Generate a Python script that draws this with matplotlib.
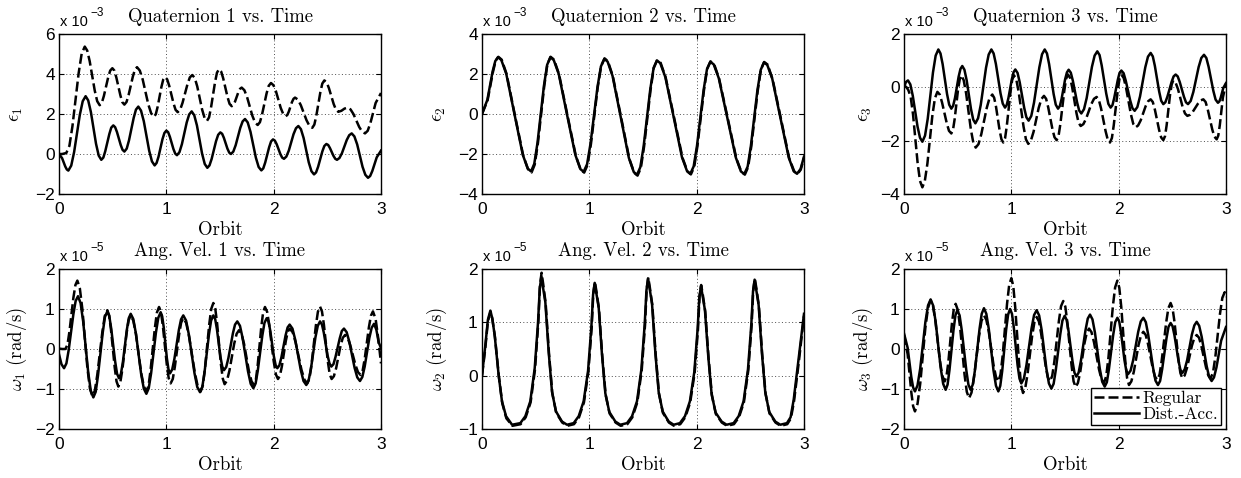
import matplotlib
matplotlib.use("Agg")
import matplotlib.pyplot as plt

plt.rcParams['mathtext.fontset'] = 'cm'
plt.rcParams['font.family'] = 'Liberation Sans'

# (orbit, value) pairs; quaternions in 1e-3, rates in 1e-5 rad/s
eps1_reg = [(0, 0), (.03, 0), (.068, .05), (.097, .41), (.125, 1.38), (.183, 4.04), (.211, 5.01), (.24, 5.37),
            (.263, 5.17), (.286, 4.64), (.333, 3.17), (.356, 2.64), (.379, 2.44),
            (.399, 2.56), (.418, 2.90), (.458, 3.83), (.477, 4.17), (.497, 4.29),
            (.516, 4.17), (.534, 3.83), (.572, 2.93), (.590, 2.59), (.609, 2.47),
            (.629, 2.60), (.648, 2.94), (.688, 3.87), (.707, 4.22), (.727, 4.34),
            (.753, 4.17), (.780, 3.72), (.832, 2.48), (.859, 2.03), (.885, 1.86),
            (.902, 1.99), (.919, 2.36), (.954, 3.35), (.971, 3.72), (.988, 3.85),
            (1.008, 3.73), (1.027, 3.41), (1.067, 2.53), (1.086, 2.21), (1.106, 2.09),
            (1.129, 2.22), (1.151, 2.56), (1.197, 3.49), (1.219, 3.83), (1.242, 3.95),
            (1.265, 3.80), (1.288, 3.38), (1.333, 2.23), (1.356, 1.81), (1.379, 1.66),
            (1.398, 1.83), (1.416, 2.31), (1.454, 3.60), (1.472, 4.07), (1.491, 4.24),
            (1.511, 4.12), (1.530, 3.78), (1.570, 2.85), (1.589, 2.51), (1.609, 2.39),
            (1.625, 2.45), (1.640, 2.62), (1.671, 3.09), (1.687, 3.26), (1.702, 3.32),
            (1.727, 3.19), (1.752, 2.85), (1.801, 1.92), (1.826, 1.58), (1.851, 1.45),
            (1.872, 1.59), (1.892, 1.98), (1.934, 3.03), (1.954, 3.41), (1.975, 3.55),
            (1.998, 3.44), (2.021, 3.14), (2.066, 2.30), (2.089, 2.00), (2.112, 1.89),
            (2.127, 1.95), (2.141, 2.12), (2.170, 2.59), (2.185, 2.76), (2.199, 2.82),
            (2.226, 2.72), (2.253, 2.44), (2.306, 1.69), (2.333, 1.41), (2.36, 1.31),
            (2.379, 1.47), (2.397, 1.90), (2.435, 3.09), (2.453, 3.52), (2.472, 3.68),
            (2.494, 3.58), (2.515, 3.29), (2.559, 2.50), (2.580, 2.22), (2.602, 2.11),
            (2.631, 2.16), (2.660, 2.27), (2.689, 2.32),
            (2.716, 2.23), (2.743, 2.00), (2.797, 1.35), (2.824, 1.12), (2.851, 1.03),
            (2.876, 1.16), (2.901, 1.54), (2.950, 2.55), (3.0, 3.05)]
eps1_dist = [(0, 0), (.029, -.21), (.058, -.62), (.0725, -.77), (.087, -.83),
             (.114, -.58), (.141, .10), (.194, 1.96), (.221, 2.64), (.248, 2.89),
             (.272, 2.68), (.297, 2.10), (.345, .51), (.370, -.08), (.394, -.29),
             (.413, -.18), (.431, .14), (.469, 1.00), (.487, 1.32), (.506, 1.43),
             (.523, 1.34), (.540, 1.10), (.575, .45), (.592, .21), (.609, .12),
             (.631, .27), (.652, .68), (.696, 1.81), (.717, 2.22), (.739, 2.37),
             (.764, 2.17), (.790, 1.64), (.840, .17), (.866, -.37), (.891, -.57),
             (.909, -.45), (.927, -.14), (.964, .74), (.982, 1.05), (1.0, 1.17),
             (1.017, 1.09), (1.033, .86), (1.066, .25), (1.083, .02), (1.099, -.06),
             (1.122, .09), (1.145, .49), (1.190, 1.58), (1.213, 1.98), (1.236, 2.13),
             (1.260, 1.94), (1.285, 1.43), (1.333, .02), (1.358, -.50), (1.382, -.69),
             (1.402, -.57), (1.422, -.25), (1.463, .64), (1.483, .96), (1.503, 1.08),
             (1.520, 1.01), (1.536, .81), (1.569, .27), (1.586, .07), (1.602, 0),
             (1.624, .12), (1.646, .44), (1.689, 1.31), (1.711, 1.63), (1.733, 1.75),
             (1.758, 1.58), (1.784, 1.11), (1.834, -.18), (1.860, -.65), (1.885, -.82),
             (1.903, -.72), (1.921, -.43), (1.958, .34), (1.976, .63), (1.994, .73),
             (2.011, .67), (2.028, .49), (2.062, 0), (2.079, -.18), (2.096, -.24),
             (2.118, -.13), (2.141, .17), (2.185, .99), (2.208, 1.29), (2.23, 1.40),
             (2.254, 1.24), (2.279, .80), (2.327, -.42), (2.352, -.86), (2.376, -1.02),
             (2.395, -.92), (2.414, -.64), (2.453, .12), (2.472, .40), (2.491, .50),
             (2.508, .45), (2.524, .30), (2.557, -.09), (2.574, -.24), (2.59, -.29),
             (2.613, -.20), (2.636, .04), (2.681, .70), (2.704, .94), (2.727, 1.03),
             (2.752, .88), (2.778, .48), (2.828, -.64), (2.854, -1.04), (2.879, -1.19),
             (2.899, -1.10), (2.919, -.85), (2.960, -.17), (3.0, .17)]

eps2_reg = [(0, 0), (.052, .68), (.102, 2.10), (.127, 2.66), (.152, 2.86),
            (.183, 2.72), (.229, 2.00), (.306, -.05), (.384, -2.08), (.430, -2.77), (.462, -2.92),
            (.491, -2.53), (.521, -1.46), (.580, 1.40), (.609, 2.48), (.639, 2.86),
            (.671, 2.72), (.718, 1.98), (.796, -.06), (.874, -2.09), (.920, -2.79), (.952, -2.93),
            (.983, -2.55), (1.015, -1.50), (1.078, 1.33), (1.110, 2.40), (1.142, 2.78),
            (1.173, 2.64), (1.219, 1.89), (1.296, -.17), (1.372, -2.23), (1.418, -2.94), (1.449, -3.08),
            (1.480, -2.70), (1.510, -1.63), (1.571, 1.23), (1.601, 2.32), (1.632, 2.70),
            (1.664, 2.56), (1.711, 1.83), (1.790, -.19), (1.868, -2.19), (1.915, -2.88), (1.946, -3.02),
            (1.977, -2.65), (2.007, -1.61), (2.068, 1.19), (2.098, 2.26), (2.129, 2.63),
            (2.162, 2.50), (2.209, 1.77), (2.290, -.23), (2.369, -2.21), (2.417, -2.90), (2.449, -3.03),
            (2.479, -2.66), (2.509, -1.62), (2.569, 1.17), (2.599, 2.23), (2.629, 2.60),
            (2.661, 2.47), (2.707, 1.75), (2.785, -.24), (2.862, -2.21), (2.909, -2.87), (2.940, -3.0),
            (2.970, -2.78), (3.0, -2.18)]
eps2_dist = [(0, 0), (.05, .71), (.099, 2.13), (.124, 2.65), (.149, 2.84),
             (.180, 2.70), (.226, 2.01), (.303, -.02), (.380, -2.04), (.426, -2.73), (.457, -2.87),
             (.487, -2.49), (.517, -1.44), (.577, 1.41), (.607, 2.46), (.637, 2.84),
             (.668, 2.70), (.715, 2.00), (.792, -.03), (.870, -2.05), (.916, -2.75), (.947, -2.89),
             (.979, -2.51), (1.011, -1.48), (1.076, 1.35), (1.108, 2.38), (1.14, 2.76),
             (1.170, 2.62), (1.216, 1.91), (1.292, -.14), (1.368, -2.19), (1.414, -2.90), (1.444, -3.04),
             (1.475, -2.66), (1.506, -1.61), (1.568, 1.25), (1.599, 2.30), (1.63, 2.68),
             (1.661, 2.54), (1.708, 1.85), (1.786, -.16), (1.863, -2.16), (1.910, -2.85), (1.941, -2.99),
             (1.972, -2.62), (2.003, -1.59), (2.065, 1.21), (2.096, 2.24), (2.127, 2.61),
             (2.159, 2.48), (2.206, 1.79), (2.286, -.20), (2.365, -2.18), (2.412, -2.87), (2.444, -3.0),
             (2.475, -2.63), (2.505, -1.60), (2.566, 1.19), (2.597, 2.21), (2.627, 2.58),
             (2.658, 2.45), (2.704, 1.77), (2.781, -.21), (2.858, -2.18), (2.904, -2.86), (2.935, -2.99),
             (2.968, -2.75), (3.0, -2.13)]

eps3_reg = [(0, .04), (.02, .02), (.04, -.1),
            (.062, -.35), (.084, -1.01), (.127, -2.84), (.149, -3.51), (.171, -3.75),
            (.194, -3.51), (.218, -2.86), (.264, -1.07), (.288, -.41), (.311, -.17),
            (.333, -.27), (.354, -.56), (.398, -1.34), (.419, -1.63), (.441, -1.73),
            (.457, -1.58), (.472, -1.19), (.503, -.10), (.519, .30), (.534, .45),
            (.556, .27), (.579, -.23), (.623, -1.58), (.646, -2.08), (.668, -2.26),
            (.694, -2.13), (.720, -1.76), (.771, -.77), (.797, -.40), (.823, -.27),
            (.840, -.39), (.857, -.72), (.891, -1.62), (.908, -1.95), (.925, -2.07),
            (.942, -1.90), (.958, -1.44), (.992, -.18), (1.008, .28), (1.025, .45),
            (1.047, .28), (1.069, -.19), (1.114, -1.48), (1.136, -1.95), (1.158, -2.12),
            (1.182, -2.00), (1.207, -1.67), (1.255, -.77), (1.280, -.44), (1.304, -.32),
            (1.324, -.43), (1.343, -.74), (1.383, -1.57), (1.402, -1.87), (1.422, -1.98),
            (1.440, -1.82), (1.457, -1.37), (1.493, -.14), (1.510, .32), (1.528, .48),
            (1.548, .35), (1.567, 0.0), (1.607, -.97), (1.626, -1.32), (1.646, -1.45),
            (1.671, -1.38), (1.696, -1.18), (1.745, -.63), (1.770, -.43), (1.795, -.36),
            (1.816, -.48), (1.836, -.79), (1.878, -1.64), (1.898, -1.96), (1.919, -2.07),
            (1.937, -1.90), (1.954, -1.43), (1.990, -.16), (2.007, .31), (2.025, .48),
            (2.047, .35), (2.069, -.02), (2.114, -1.01), (2.136, -1.37), (2.158, -1.50),
            (2.181, -1.43), (2.205, -1.24), (2.251, -.71), (2.275, -.52), (2.298, -.45),
            (2.318, -.55), (2.337, -.83), (2.377, -1.60), (2.396, -1.88), (2.416, -1.98),
            (2.432, -1.83), (2.447, -1.42), (2.478, -.30), (2.494, .11), (2.509, .26),
            (2.531, .17), (2.553, -.07), (2.596, -.74), (2.618, -.98), (2.64, -1.07),
            (2.665, -1.03), (2.690, -.92), (2.739, -.61), (2.764, -.49), (2.789, -.45),
            (2.810, -.55), (2.830, -.83), (2.872, -1.58), (2.892, -1.85), (2.913, -1.95),
            (2.928, -1.81), (2.942, -1.43), (2.971, -.38), (3.0, .14)]
eps3_dist = [(0, 0), (.018, .2), (.037, .26),
             (.059, .11), (.082, -.32), (.126, -1.47), (.149, -1.89), (.171, -2.04),
             (.196, -1.81), (.221, -1.18), (.270, .56), (.295, 1.19), (.32, 1.42),
             (.340, 1.27), (.360, .87), (.401, -.25), (.421, -.65), (.441, -.80),
             (.458, -.69), (.475, -.40), (.509, .40), (.526, .69), (.543, .80),
             (.563, .66), (.584, .26), (.624, -.81), (.645, -1.21), (.665, -1.35),
             (.690, -1.16), (.715, -.66), (.764, .73), (.789, 1.23), (.814, 1.42),
             (.835, 1.27), (.856, .88), (.899, -.22), (.920, -.61), (.941, -.76),
             (.957, -.66), (.973, -.40), (1.005, .31), (1.021, .57), (1.037, .67),
             (1.058, .54), (1.078, .19), (1.120, -.77), (1.140, -1.12), (1.161, -1.25),
             (1.186, -1.07), (1.211, -.58), (1.261, .75), (1.286, 1.24), (1.311, 1.42),
             (1.332, 1.27), (1.352, .87), (1.394, -.25), (1.414, -.65), (1.435, -.80),
             (1.452, -.70), (1.468, -.44), (1.501, .30), (1.518, .56), (1.534, .66),
             (1.554, .55), (1.573, .25), (1.613, -.57), (1.632, -.87), (1.652, -.98),
             (1.677, -.82), (1.702, -.40), (1.751, .77), (1.776, 1.19), (1.801, 1.35),
             (1.822, 1.21), (1.842, .82), (1.884, -.23), (1.904, -.62), (1.925, -.76),
             (1.942, -.67), (1.958, -.41), (1.992, .28), (2.008, .54), (2.025, .63),
             (2.046, .53), (2.066, .25), (2.108, -.50), (2.128, -.78), (2.149, -.88),
             (2.174, -.74), (2.199, -.34), (2.248, .75), (2.273, 1.15), (2.298, 1.29),
             (2.318, 1.16), (2.337, .81), (2.377, -.15), (2.396, -.50), (2.416, -.63),
             (2.435, -.56), (2.454, -.35), (2.493, .20), (2.512, .41), (2.531, .48),
             (2.550, .41), (2.569, .20), (2.608, -.35), (2.627, -.56), (2.646, -.63),
             (2.671, -.51), (2.696, -.17), (2.745, .76), (2.770, 1.10), (2.795, 1.22),
             (2.817, 1.10), (2.838, .77), (2.882, -.13), (2.903, -.46), (2.925, -.58),
             (2.938, -.53), (2.950, -.40), (2.975, -.02), (3.0, .16)]

w1_reg = [(0, .01), (.03, .0), (.06, .0),
          (.079, .11), (.097, .43), (.134, 1.28), (.153, 1.60), (.171, 1.71),
          (.194, 1.52), (.218, .99), (.264, -.46), (.288, -.99), (.311, -1.18),
          (.334, -1.04), (.357, -.64), (.404, .43), (.427, .83), (.45, .97),
          (.467, .84), (.484, .49), (.519, -.46), (.536, -.81), (.553, -.94),
          (.572, -.82), (.591, -.50), (.630, .40), (.649, .72), (.668, .84),
          (.692, .71), (.717, .37), (.765, -.59), (.790, -.93), (.814, -1.06),
          (.834, -.92), (.853, -.53), (.893, .52), (.912, .91), (.932, 1.05),
          (.950, .92), (.968, .57), (1.004, -.38), (1.022, -.73), (1.04, -.86),
          (1.060, -.75), (1.079, -.45), (1.119, .36), (1.138, .66), (1.158, .77),
          (1.185, .65), (1.212, .31), (1.266, -.60), (1.293, -.94), (1.32, -1.06),
          (1.340, -.91), (1.359, -.51), (1.399, .60), (1.418, 1.0), (1.438, 1.15),
          (1.456, 1.01), (1.473, .64), (1.508, -.37), (1.526, -.74), (1.543, -.88),
          (1.565, -.79), (1.588, -.54), (1.632, .13), (1.655, .38), (1.677, .47),
          (1.700, .38), (1.724, .13), (1.770, -.56), (1.794, -.81), (1.817, -.90),
          (1.834, -.77), (1.851, -.41), (1.885, .56), (1.902, .92), (1.919, 1.05),
          (1.939, .93), (1.959, .60), (2.0, -.30), (2.020, -.63), (2.04, -.75),
          (2.058, -.67), (2.076, -.44), (2.113, .20), (2.131, .43), (2.149, .51),
          (2.177, .42), (2.204, .17), (2.259, -.52), (2.287, -.77), (2.314, -.86),
          (2.334, -.73), (2.353, -.38), (2.393, .58), (2.412, .93), (2.432, 1.06),
          (2.450, .94), (2.468, .61), (2.504, -.30), (2.522, -.63), (2.54, -.75),
          (2.561, -.68), (2.582, -.48), (2.623, .08), (2.644, .28), (2.665, .35),
          (2.689, .28), (2.713, .10), (2.762, -.40), (2.786, -.58), (2.81, -.65),
          (2.829, -.54), (2.848, -.25), (2.887, .54), (2.906, .83), (2.925, .94),
          (2.950, .75), (2.975, .25), (3.0, -.36)]
w1_dist = [(0, -.13), (.023, -.38), (.047, -.48),
           (.069, -.36), (.090, -.03), (.134, .87), (.155, 1.20), (.177, 1.32),
           (.201, 1.15), (.225, .69), (.272, -.58), (.296, -1.04), (.32, -1.21),
           (.342, -1.07), (.363, -.67), (.407, .40), (.428, .80), (.45, .94),
           (.468, .83), (.486, .52), (.523, -.31), (.541, -.62), (.559, -.73),
           (.577, -.62), (.595, -.33), (.632, .48), (.650, .77), (.668, .88),
           (.692, .75), (.717, .38), (.765, -.62), (.790, -.99), (.814, -1.12),
           (.836, -.98), (.858, -.61), (.903, .41), (.925, .78), (.947, .92),
           (.961, .82), (.976, .54), (1.005, -.23), (1.020, -.51), (1.034, -.61),
           (1.055, -.51), (1.075, -.25), (1.117, .48), (1.137, .74), (1.158, .84),
           (1.184, .71), (1.210, .36), (1.262, -.60), (1.288, -.95), (1.314, -1.08),
           (1.335, -.95), (1.355, -.60), (1.397, .36), (1.417, .71), (1.438, .84),
           (1.455, .75), (1.471, .50), (1.504, -.19), (1.521, -.44), (1.537, -.53),
           (1.558, -.45), (1.578, -.23), (1.620, .39), (1.640, .61), (1.661, .69),
           (1.686, .58), (1.711, .27), (1.761, -.56), (1.786, -.87), (1.811, -.98),
           (1.832, -.86), (1.852, -.54), (1.894, .33), (1.914, .65), (1.935, .77),
           (1.952, .69), (1.968, .46), (2.001, -.17), (2.018, -.40), (2.034, -.48),
           (2.053, -.41), (2.072, -.21), (2.111, .34), (2.130, .54), (2.149, .61),
           (2.175, .51), (2.201, .23), (2.252, -.52), (2.278, -.80), (2.304, -.90),
           (2.325, -.79), (2.347, -.50), (2.389, .29), (2.411, .58), (2.432, .69),
           (2.450, .61), (2.467, .41), (2.502, -.16), (2.520, -.36), (2.537, -.44),
           (2.557, -.38), (2.576, -.20), (2.616, .27), (2.635, .45), (2.655, .51),
           (2.680, .42), (2.705, .18), (2.754, -.47), (2.779, -.71), (2.804, -.80),
           (2.826, -.70), (2.848, -.44), (2.891, .27), (2.913, .53), (2.935, .63),
           (2.957, .48), (2.978, .17), (3.0, .02)]

w2_reg = [(0, 0), (.03, .5), (.055, 1.02), (.08, 1.20), (.097, 1.06), (.121, .72), (.158, -.03), (.189, -.52),
          (.227, -.80), (.283, -.94), (.360, -.91), (.407, -.78), (.453, -.50), (.494, .12), (.525, 1.0),
          (.540, 1.69), (.555, 1.93), (.570, 1.72), (.593, 1.36), (.624, .42), (.655, -.33), (.692, -.70),
          (.748, -.88), (.795, -.94), (.857, -.91), (.904, -.78), (.950, -.50), (.991, .07), (1.022, .90),
          (1.037, 1.54), (1.052, 1.76), (1.067, 1.57), (1.090, 1.25), (1.121, .36), (1.152, -.36), (1.189, -.71),
          (1.245, -.88), (1.292, -.94), (1.354, -.91), (1.401, -.78), (1.447, -.50), (1.488, .10), (1.519, .95),
          (1.534, 1.62), (1.549, 1.84), (1.564, 1.65), (1.587, 1.32), (1.618, .40), (1.649, -.34), (1.686, -.70),
          (1.742, -.88), (1.789, -.94), (1.847, -.91), (1.894, -.78), (1.940, -.50), (1.981, .05), (2.012, .86),
          (2.027, 1.49), (2.042, 1.70), (2.057, 1.52), (2.080, 1.20), (2.111, .33), (2.142, -.37), (2.179, -.72),
          (2.235, -.88), (2.282, -.94), (2.347, -.91), (2.394, -.78), (2.440, -.50), (2.481, .10), (2.512, .94),
          (2.527, 1.60), (2.542, 1.82), (2.557, 1.63), (2.580, 1.30), (2.611, .39), (2.642, -.34), (2.679, -.71),
          (2.735, -.88), (2.782, -.94), (2.844, -.91), (2.878, -.80), (2.907, -.48), (2.953, .28), (3.0, 1.12)]
w2_dist = [(0, 0), (.03, .55), (.055, 1.05), (.078, 1.22), (.095, 1.08), (.118, .76), (.155, .01), (.186, -.48),
           (.224, -.76), (.28, -.92), (.357, -.89), (.404, -.76), (.45, -.48), (.491, .14), (.522, 1.0),
           (.538, 1.63), (.553, 1.86), (.568, 1.66), (.590, 1.38), (.621, .45), (.652, -.30), (.689, -.67),
           (.745, -.86), (.792, -.92), (.854, -.89), (.901, -.76), (.947, -.48), (.988, .09), (1.019, .92),
           (1.035, 1.52), (1.05, 1.74), (1.065, 1.55), (1.087, 1.28), (1.118, .39), (1.149, -.33), (1.186, -.68),
           (1.242, -.86), (1.289, -.92), (1.351, -.89), (1.398, -.76), (1.444, -.48), (1.485, .12), (1.516, .97),
           (1.532, 1.60), (1.547, 1.82), (1.562, 1.63), (1.584, 1.35), (1.615, .43), (1.646, -.31), (1.683, -.67),
           (1.739, -.86), (1.786, -.92), (1.844, -.89), (1.891, -.76), (1.937, -.48), (1.978, .07), (2.009, .88),
           (2.025, 1.47), (2.04, 1.68), (2.055, 1.50), (2.077, 1.23), (2.108, .36), (2.139, -.34), (2.176, -.69),
           (2.232, -.86), (2.279, -.92), (2.344, -.89), (2.391, -.76), (2.437, -.48), (2.478, .12), (2.509, .96),
           (2.525, 1.58), (2.54, 1.80), (2.555, 1.61), (2.577, 1.33), (2.608, .42), (2.639, -.31), (2.676, -.68),
           (2.732, -.86), (2.779, -.92), (2.841, -.89), (2.875, -.78), (2.904, -.45), (2.95, .32), (3.0, 1.16)]

w3_reg = [(0, .35), (.034, -.13), (.068, -1.08), (.085, -1.43), (.102, -1.56),
          (.126, -1.37), (.151, -.87), (.199, .53), (.224, 1.03), (.248, 1.22),
          (.270, 1.08), (.292, .71), (.335, -.30), (.357, -.67), (.379, -.81),
          (.396, -.68), (.413, -.33), (.447, .65), (.464, 1.0), (.481, 1.13),
          (.502, .97), (.523, .54), (.564, -.64), (.585, -1.07), (.606, -1.23),
          (.629, -1.09), (.652, -.71), (.699, .32), (.722, .70), (.745, .84),
          (.767, .73), (.790, .43), (.834, -.40), (.857, -.70), (.879, -.81),
          (.899, -.64), (.919, -.17), (.960, 1.13), (.980, 1.60), (1.0, 1.77),
          (1.018, 1.58), (1.036, 1.05), (1.073, -.38), (1.091, -.91), (1.109, -1.1),
          (1.130, -.97), (1.151, -.63), (1.194, .33), (1.215, .67), (1.236, .8),
          (1.257, .69), (1.277, .40), (1.319, -.41), (1.339, -.70), (1.36, -.81),
          (1.381, -.67), (1.401, -.31), (1.443, .70), (1.463, 1.07), (1.484, 1.2),
          (1.503, 1.06), (1.522, .66), (1.561, -.41), (1.580, -.81), (1.599, -.95),
          (1.620, -.85), (1.641, -.59), (1.682, .15), (1.703, .41), (1.724, .51),
          (1.747, .42), (1.770, .17), (1.817, -.51), (1.840, -.76), (1.863, -.85),
          (1.884, -.68), (1.905, -.21), (1.946, 1.07), (1.967, 1.54), (1.988, 1.71),
          (2.006, 1.53), (2.024, 1.06), (2.060, -.25), (2.078, -.72), (2.096, -.9),
          (2.118, -.81), (2.141, -.57), (2.185, .10), (2.208, .34), (2.23, .43),
          (2.252, .35), (2.273, .13), (2.317, -.47), (2.338, -.69), (2.36, -.77),
          (2.381, -.64), (2.401, -.29), (2.443, .67), (2.463, 1.02), (2.484, 1.15),
          (2.502, 1.02), (2.520, .68), (2.557, -.26), (2.575, -.60), (2.593, -.73),
          (2.615, -.66), (2.638, -.46), (2.682, .08), (2.705, .28), (2.727, .35),
          (2.749, .28), (2.770, .08), (2.814, -.46), (2.835, -.66), (2.857, -.73),
          (2.879, -.59), (2.901, -.19), (2.944, .88), (2.966, 1.28), (2.988, 1.42),
          (3.0, 1.3)]
w3_dist = [(0, .39), (.034, .03), (.068, -.70), (.085, -.96), (.102, -1.06),
           (.126, -.91), (.151, -.49), (.199, .67), (.224, 1.09), (.248, 1.24),
           (.271, 1.09), (.295, .68), (.341, -.46), (.365, -.87), (.388, -1.02),
           (.406, -.89), (.424, -.52), (.461, .47), (.479, .84), (.497, .97),
           (.518, .84), (.538, .47), (.580, -.52), (.600, -.89), (.621, -1.02),
           (.642, -.88), (.662, -.51), (.704, .51), (.724, .88), (.745, 1.02),
           (.767, .88), (.790, .50), (.834, -.54), (.857, -.92), (.879, -1.06),
           (.897, -.92), (.915, -.55), (.952, .49), (.970, .86), (.988, 1.0),
           (1.006, .88), (1.023, .54), (1.058, -.40), (1.076, -.74), (1.093, -.86),
           (1.117, -.74), (1.141, -.40), (1.188, .51), (1.212, .85), (1.236, .97),
           (1.259, .84), (1.282, .48), (1.327, -.50), (1.350, -.86), (1.373, -.99),
           (1.394, -.87), (1.414, -.53), (1.456, .37), (1.476, .71), (1.497, .83),
           (1.515, .73), (1.533, .45), (1.570, -.31), (1.588, -.59), (1.606, -.69),
           (1.627, -.59), (1.648, -.30), (1.691, .47), (1.712, .76), (1.733, .86),
           (1.756, .74), (1.779, .41), (1.824, -.49), (1.847, -.82), (1.87, -.94),
           (1.890, -.83), (1.909, -.51), (1.949, .35), (1.968, .67), (1.988, .78),
           (2.005, .69), (2.021, .43), (2.054, -.28), (2.071, -.54), (2.087, -.63),
           (2.111, -.54), (2.135, -.28), (2.182, .43), (2.206, .69), (2.23, .78),
           (2.253, .67), (2.275, .36), (2.321, -.48), (2.343, -.79), (2.366, -.90),
           (2.386, -.80), (2.405, -.51), (2.445, .26), (2.464, .55), (2.484, .65),
           (2.502, .57), (2.520, .34), (2.557, -.29), (2.575, -.52), (2.593, -.60),
           (2.615, -.51), (2.638, -.28), (2.682, .36), (2.705, .59), (2.727, .68),
           (2.750, .58), (2.773, .31), (2.820, -.43), (2.843, -.70), (2.866, -.80),
           (2.888, -.71), (2.911, -.46), (2.955, .21), (3.0, .55)]

orbit_ticks = [0, 1, 2, 3]
titles = ['Quaternion 1 vs. Time', 'Quaternion 2 vs. Time', 'Quaternion 3 vs. Time',
          'Ang. Vel. 1 vs. Time', 'Ang. Vel. 2 vs. Time', 'Ang. Vel. 3 vs. Time']
ylabels = [r'$\epsilon_1$', r'$\epsilon_2$', r'$\epsilon_3$',
           r'$\omega_1$ (rad/s)', r'$\omega_2$ (rad/s)', r'$\omega_3$ (rad/s)']
exponents = ['3', '3', '3', '5', '5', '5']
ylims = [(-2, 6), (-4, 4), (-4, 2), (-2, 2), (-1, 2), (-2, 2)]
yticks = [[-2, 0, 2, 4, 6], [-4, -2, 0, 2, 4], [-4, -2, 0, 2],
          [-2, -1, 0, 1, 2], [-1, 0, 1, 2], [-2, -1, 0, 1, 2]]
series = [(eps1_reg, eps1_dist), (eps2_reg, eps2_dist), (eps3_reg, eps3_dist),
          (w1_reg, w1_dist), (w2_reg, w2_dist), (w3_reg, w3_dist)]

W, H = 1241, 478
lefts = [59, 482, 904]
tops = [34, 269]
label_x = [-0.105, -0.105, -0.092, -0.094, -0.103, -0.09]

fig = plt.figure(figsize=(W / 100, H / 100), dpi=100)
serif = 'cmr10'

for i in range(6):
    r, c = divmod(i, 3)
    rect = [lefts[c] / W, 1 - (tops[r] + 160) / H, 322 / W, 160 / H]
    ax = fig.add_axes(rect)
    reg, dist = series[i]
    xr, yr = zip(*reg)
    xd, yd = zip(*dist)
    ax.plot(xr, yr, color='k', lw=1.8, linestyle=(0, (4, 1.6)), label='Regular')
    ax.plot(xd, yd, color='k', lw=1.8, label='Dist.-Acc.')
    ax.set_xlim(0, 3)
    ax.set_ylim(*ylims[i])
    ax.set_xticks(orbit_ticks)
    ax.set_yticks(yticks[i])
    ax.tick_params(direction='in', top=True, right=True, length=3.5, width=0.8, labelsize=12.5)
    ax.tick_params(axis='y', pad=3)
    ax.tick_params(axis='x', pad=6)
    ax.grid(True, linestyle=(0, (1, 2.5)), color='0.3', linewidth=0.7)
    for s in ax.spines.values():
        s.set_linewidth(1.0)
    ax.set_title(titles[i], fontfamily=serif, fontsize=13.5, pad=9)
    ax.set_xlabel('Orbit', fontfamily=serif, fontsize=13.5, labelpad=2.5)
    ax.set_ylabel(ylabels[i], fontfamily=serif, fontsize=13.5)
    ax.yaxis.set_label_coords(label_x[i], 0.5)
    ax.annotate('x 10', xy=(0, 1), xycoords='axes fraction', xytext=(1, 3.5),
                textcoords='offset points', ha='left', va='bottom', fontsize=10.5)
    ax.annotate('\u2212' + exponents[i], xy=(0, 1), xycoords='axes fraction', xytext=(22.5, 10.5),
                textcoords='offset points', ha='left', va='bottom', fontsize=8.5)
    if i == 5:
        leg = ax.legend(loc='lower right', bbox_to_anchor=(0.984, 0.025), borderaxespad=0,
                        fancybox=False, framealpha=1, edgecolor='k',
                        prop={'family': serif, 'size': 12.5}, handlelength=2.6,
                        handletextpad=0.2, borderpad=0.15, labelspacing=0.05)
        leg.get_frame().set_linewidth(1.0)

fig.savefig('out.png', dpi=100)
